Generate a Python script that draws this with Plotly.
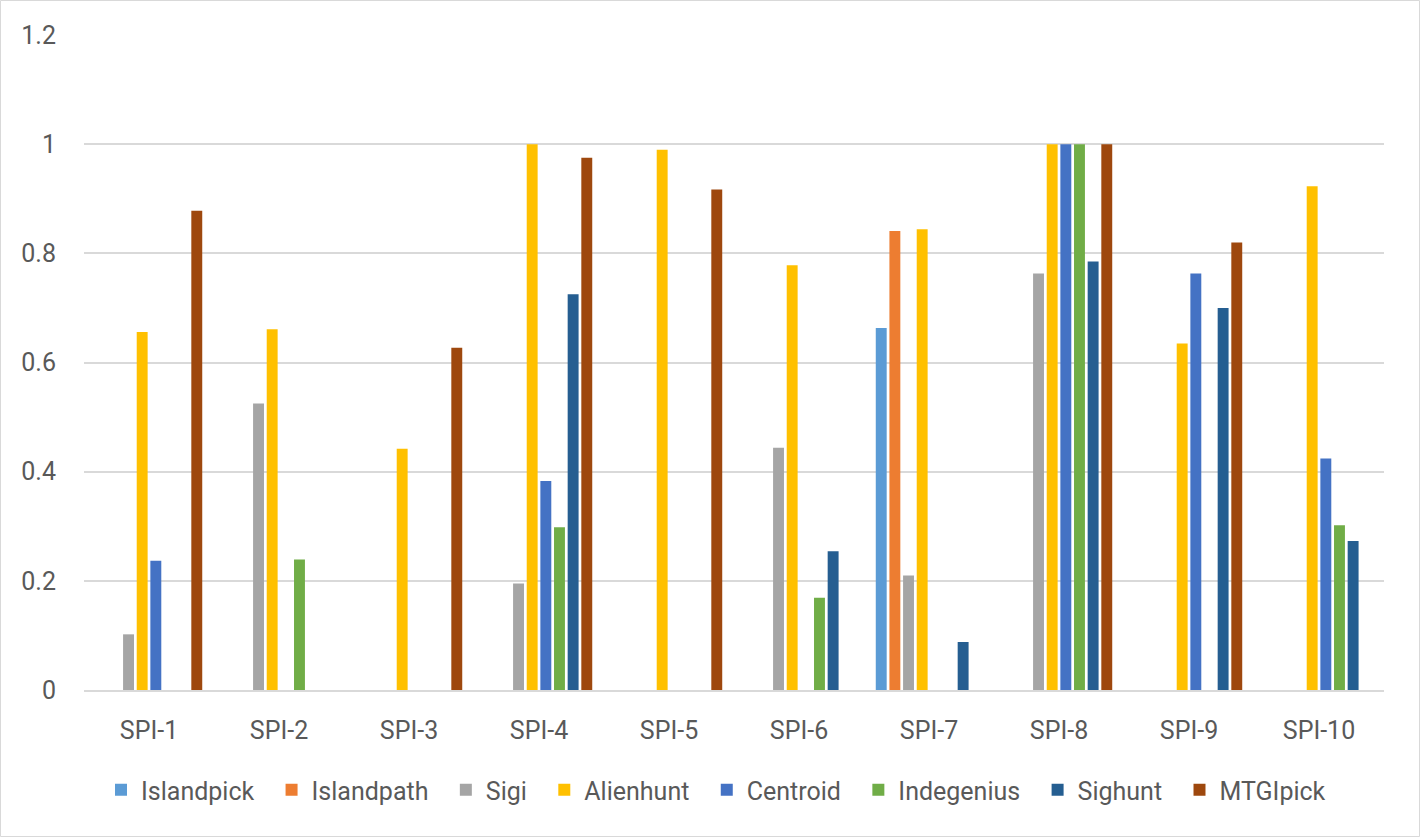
import plotly.graph_objects as go

categories = ["SPI-1", "SPI-2", "SPI-3", "SPI-4", "SPI-5", "SPI-6", "SPI-7", "SPI-8", "SPI-9", "SPI-10"]

islandpick = [0, 0, 0, 0, 0, 0, 0.663, 0, 0, 0]
islandpath = [0, 0, 0, 0, 0, 0, 0.841, 0, 0, 0]
sigi = [0.102, 0.525, 0, 0.195, 0, 0.444, 0.210, 0.763, 0, 0]
alienhunt = [0.656, 0.661, 0.442, 1.0, 0.990, 0.778, 0.844, 1.0, 0.635, 0.923]
centroid = [0.237, 0, 0, 0.383, 0, 0, 0, 1.0, 0.763, 0.424]
indegenius = [0, 0.239, 0, 0.298, 0, 0.169, 0, 1.0, 0, 0.302]
sighunt = [0, 0, 0, 0.725, 0, 0.254, 0.088, 0.785, 0.700, 0.273]
mtgipick = [0.878, 0, 0.627, 0.975, 0.917, 0, 0, 1.0, 0.820, 0]

series_names = ["Islandpick", "Islandpath", "Sigi", "Alienhunt", "Centroid", "Indegenius", "Sighunt", "MTGIpick"]
series_values = [islandpick, islandpath, sigi, alienhunt, centroid, indegenius, sighunt, mtgipick]
series_colors = ["#5B9BD5", "#ED7D31", "#A5A5A5", "#FFC000", "#4472C4", "#70AD47", "#255E91", "#9E480E"]

W, H = 1420, 837
ML, MR, MT, MB = 84, 36, 35, 147
FONT = "Roboto, Lato, sans-serif"
FS = 25
TXT = "#595959"
PAD = "\u00a0\u00a0"  # extra spacing after legend entries

fig = go.Figure()
for name, vals, color in zip(series_names, series_values, series_colors):
    fig.add_trace(go.Bar(
        x=categories, y=vals, name=name + PAD,
        marker=dict(color=color, line=dict(width=0)),
    ))

pw = W - ML - MR
ph = H - MT - MB

fig.update_layout(
    width=W, height=H,
    margin=dict(l=ML, r=MR, t=MT, b=MB),
    paper_bgcolor="white", plot_bgcolor="white",
    barmode="group", bargap=0.16, bargroupgap=0.2,
    font=dict(family=FONT, size=FS, color=TXT),
    xaxis=dict(
        showgrid=False, showline=True, linecolor="#d9d9d9", linewidth=1.5,
        ticks="", ticklabelstandoff=17, tickfont=dict(family=FONT, size=FS, color=TXT),
    ),
    yaxis=dict(
        range=[0, 1.2], dtick=0.2, showgrid=True, gridcolor="#d9d9d9", gridwidth=1.5,
        zeroline=False, showline=False, ticks="", ticklabelstandoff=27,
        tickfont=dict(family=FONT, size=FS, color=TXT),
    ),
    legend=dict(
        orientation="h", x=0.5 - 12 / pw, xanchor="center", y=-100 / ph, yanchor="middle",
        font=dict(family=FONT, size=FS, color=TXT), itemwidth=30, traceorder="normal",
        tracegroupgap=0,
    ),
    shapes=[dict(
        type="rect", xref="paper", yref="paper",
        x0=-(ML - 0.5) / pw, x1=1 + (MR - 0.5) / pw,
        y0=-(MB - 0.5) / ph, y1=1 + (MT - 0.5) / ph,
        line=dict(color="#d9d9d9", width=1), fillcolor="rgba(0,0,0,0)", layer="below",
    )],
)

fig.write_html(
    "out.html",
    config={"displayModeBar": False},
    post_script="document.body.style.margin='0';document.body.style.overflow='hidden';",
)
